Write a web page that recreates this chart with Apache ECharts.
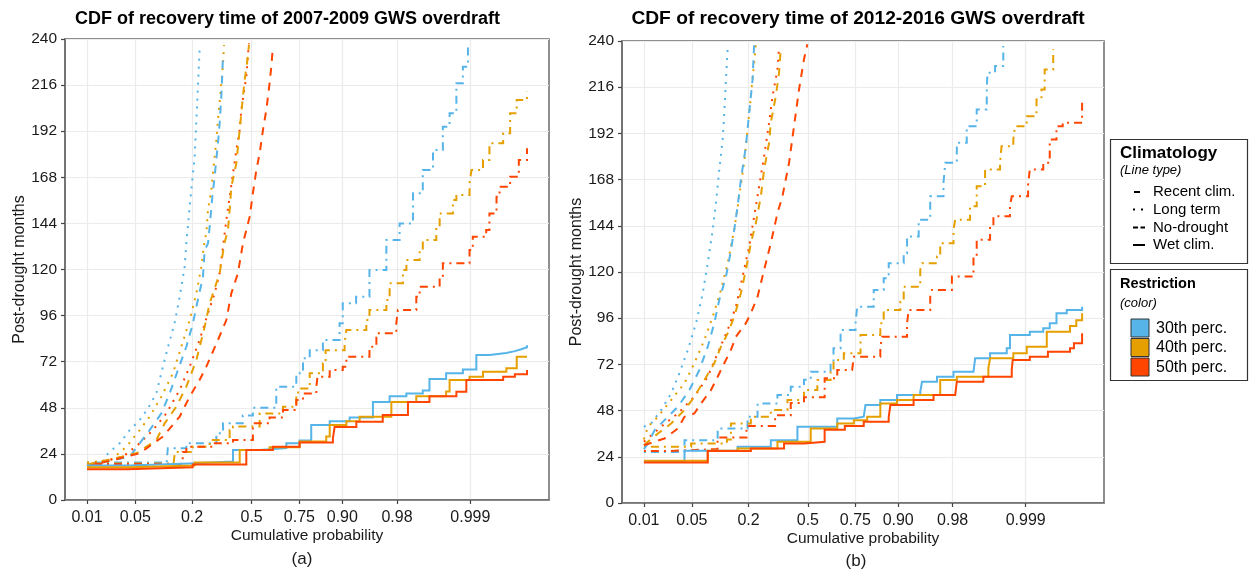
<!DOCTYPE html>
<html>
<head>
<meta charset="utf-8">
<script src="https://cdn.jsdelivr.net/npm/echarts@6/dist/echarts.min.js"></script>
<style>
  html, body { margin: 0; padding: 0; background: #ffffff; }
  #chart { width: 1249px; height: 571px; }
</style>
</head>
<body>
<div id="chart"></div>
<script>
// ---- Axis ticks -----------------------------------------------------------
const probTicks = [0.01, 0.05, 0.2, 0.5, 0.75, 0.90, 0.98, 0.999];
const probTickLabels = ['0.01', '0.05', '0.2', '0.5', '0.75', '0.90', '0.98', '0.999'];
const monthMax = 240;
const monthStep = 24;

const climatologies = ['Recent clim.', 'Long term', 'No-drought', 'Wet clim.'];
const restrictions = ['30th perc.', '40th perc.', '50th perc.'];
const panelTitles = ['CDF of recovery time of 2007-2009 GWS overdraft', 'CDF of recovery time of 2012-2016 GWS overdraft'];
const panelTags = ['(a)', '(b)'];

// ---- (a) 2007-2009 overdraft: [cumulative probability, post-drought months] ----
const a_recent_30 = [[0.01,19.5],[0.115,20],[0.118,27],[0.178,29.5],[0.309,34.7],[0.343,40],[0.45,44],[0.507,48],[0.636,59],[0.736,66],[0.766,73.8],[0.794,78],[0.843,83.3],[0.893,92],[0.901,102.4],[0.930,105.8],[0.952,119.7],[0.9715,135.3],[0.9817,144],[0.9887,159.7],[0.9922,171.8],[0.9948,182.2],[0.99655,194.3],[0.99742,201.3],[0.99809,216.9],[0.99858,225.6],[0.99888,236]];
const a_recent_40 = [[0.01,19],[0.135,19.5],[0.139,25],[0.2035,27.7],[0.2765,31.2],[0.378,36.4],[0.396,38.2],[0.545,45],[0.671,48.6],[0.736,56],[0.751,58],[0.794,66],[0.843,71.2],[0.852,78],[0.9055,81.6],[0.9096,88.5],[0.9474,93.7],[0.952,98.9],[0.9715,104.1],[0.9744,112.8],[0.9837,119.7],[0.9856,124.9],[0.9912,130.1],[0.9922,135.3],[0.99546,142.3],[0.99605,149.2],[0.99777,156.2],[0.99809,158.8],[0.99896,164.9],[0.99905,171.8],[0.99946,177],[0.99961,185.7],[0.99981,190.9],[0.99987,201.3],[0.99991,208.2],[0.99995,212.5]];
const a_recent_50 = [[0.01,18.7],[0.1546,19],[0.165,25],[0.178,27.7],[0.292,29.5],[0.396,31.2],[0.507,39.9],[0.60,43],[0.671,46.8],[0.736,52],[0.766,55.5],[0.8197,59],[0.824,64.2],[0.865,67.7],[0.901,69.4],[0.9096,74.6],[0.952,79.8],[0.961,86.8],[0.9795,92],[0.9806,98.9],[0.99,105.8],[0.9912,111],[0.99605,116.2],[0.99655,123.2],[0.99896,130.1],[0.99911,137.1],[0.99954,140.5],[0.99961,149.2],[0.99973,157.9],[0.99977,163.1],[0.99987,168.3],[0.99992,177],[0.99995,183.1]];
const a_long_30 = [[0.01,19],[0.0179,20],[0.0212,24.3],[0.0311,29.5],[0.0424,36.4],[0.0568,41.6],[0.0715,47.7],[0.0891,55.5],[0.0968,62.5],[0.114,76.4],[0.138,92],[0.1546,105.8],[0.172,121.4],[0.178,133.6],[0.1905,152.7],[0.2035,170],[0.2104,178.7],[0.2174,197.8],[0.224,215.2],[0.231,234.3]];
const a_long_40 = [[0.01,19.5],[0.0232,20.8],[0.0384,27.7],[0.0568,36.4],[0.0748,43.4],[0.101,53.8],[0.1331,66],[0.1603,79.8],[0.1905,93.7],[0.2174,107.6],[0.2386,121.4],[0.2534,135.3],[0.261,138.8],[0.2686,151],[0.2846,161.4],[0.2957,173.5],[0.309,187.4],[0.317,197.8],[0.334,216.9],[0.343,227.3],[0.348,236.9]];
const a_long_50 = [[0.01,18],[0.0345,22.5],[0.0568,29.5],[0.0816,36.4],[0.114,45.1],[0.1546,57.3],[0.1905,69.4],[0.231,83.3],[0.2686,97.2],[0.3005,107.6],[0.3256,118],[0.343,131.9],[0.3605,145.8],[0.378,157.9],[0.396,170],[0.4145,182.2],[0.4326,192.6],[0.442,203],[0.455,211.7],[0.470,220.4],[0.479,231.6],[0.485,237.7]];
const a_nodrought_30 = [[0.01,18],[0.0424,22.5],[0.0568,29.5],[0.0748,36.4],[0.101,45.1],[0.1234,55.5],[0.149,67.7],[0.178,79.8],[0.2035,92],[0.2174,100.6],[0.2457,116.2],[0.2534,130],[0.2686,133.6],[0.2765,142.3],[0.2894,157.9],[0.3005,168.3],[0.317,185.7],[0.3256,196.1],[0.334,210],[0.3395,222.1],[0.343,232.5]];
const a_nodrought_40 = [[0.01,18.5],[0.0517,24.3],[0.0891,31.2],[0.1095,39.9],[0.1437,48.6],[0.178,59],[0.2174,72.9],[0.2534,90.2],[0.2765,102.4],[0.3256,118],[0.35,133.6],[0.369,140.5],[0.378,151],[0.387,163.1],[0.4145,175.3],[0.429,189.1],[0.442,201.3],[0.451,210],[0.4606,218.6],[0.4737,227.3],[0.485,236.9]];
const a_nodrought_50 = [[0.01,17.5],[0.0568,24.3],[0.105,33],[0.1546,43.4],[0.1905,53.8],[0.231,62.5],[0.261,69.4],[0.317,83.3],[0.3605,93.7],[0.387,107.6],[0.423,118],[0.451,133.6],[0.470,140.5],[0.489,147.5],[0.507,159.7],[0.5265,171.8],[0.545,180.4],[0.5635,192.6],[0.582,203],[0.60,216.9],[0.6095,225.6],[0.618,236]];
const a_wet_30 = [[0.01,18],[0.042,19],[0.19,20],[0.396,26],[0.545,27],[0.688,29.5],[0.751,31],[0.80,39],[0.865,41],[0.917,43],[0.9567,51],[0.9744,54],[0.9856,55.5],[0.9922,57],[0.994,63],[0.997,66],[0.99858,68],[0.99925,75.5],[0.99961,76.5],[0.99984,77.5],[0.9999,78.5],[0.99993,79.5],[0.99995,80.5]];
const a_wet_40 = [[0.01,17],[0.042,18],[0.21,19.5],[0.433,26],[0.60,27.5],[0.751,30.5],[0.854,33],[0.865,39],[0.9096,41],[0.9365,43.4],[0.9758,51],[0.99,54],[0.997,56.5],[0.99742,62.5],[0.99896,64.2],[0.99946,66.8],[0.99984,68.6],[0.99991,74.6],[0.99995,74.6]];
const a_wet_50 = [[0.01,16],[0.04,17],[0.2024,18.5],[0.47,26],[0.618,27.7],[0.751,30],[0.8745,32],[0.8794,38],[0.9305,40.8],[0.968,44.2],[0.9864,51],[0.994,54],[0.99809,56.4],[0.99879,62.5],[0.99981,64.2],[0.9999,65.5],[0.99995,67.7]];

// ---- (b) 2012-2016 overdraft ---------------------------------------------
const b_recent_30 = [[0.01,26.5],[0.04,32.6],[0.1003,38.7],[0.196,44.8],[0.2377,51.7],[0.333,56.1],[0.404,60.4],[0.478,64],[0.516,68.2],[0.6264,73],[0.642,80.4],[0.6787,89.9],[0.7505,93.4],[0.758,102],[0.825,110.7],[0.859,116.8],[0.8743,124.6],[0.913,129.8],[0.9203,138.5],[0.942,147.2],[0.9587,159.3],[0.9728,166.3],[0.9744,176.7],[0.9827,187.1],[0.9879,195.7],[0.9917,204.4],[0.99443,214.8],[0.99457,223.5],[0.99605,227],[0.99722,237.4]];
const b_recent_40 = [[0.01,29.2],[0.0488,30.9],[0.1255,33],[0.1375,41.3],[0.2093,44.8],[0.2995,48.3],[0.386,53.5],[0.478,58.7],[0.5535,63.9],[0.6264,69.1],[0.642,74.3],[0.695,77.8],[0.7724,87.3],[0.848,93.4],[0.859,100.3],[0.9053,104.6],[0.913,112.4],[0.9446,121.1],[0.9473,124.6],[0.9665,128.1],[0.9698,135],[0.9806,142],[0.9817,147.2],[0.9893,154.1],[0.9917,164.5],[0.99403,173.2],[0.9968,176.7],[0.997,185.3],[0.99822,188.8],[0.99835,195.7],[0.99905,200.9],[0.99941,209.6],[0.99954,214.8],[0.99961,225.2],[0.99975,235.7]];
const b_recent_50 = [[0.01,27],[0.0238,28],[0.1,34],[0.192,40],[0.321,45.6],[0.404,52],[0.478,55],[0.594,64.8],[0.6617,69.1],[0.735,70],[0.743,76],[0.848,81.2],[0.854,86.4],[0.9203,93.4],[0.9236,100.3],[0.9587,107.2],[0.9608,110.7],[0.9795,117.6],[0.9906,128.1],[0.9917,136.8],[0.99513,143.7],[0.99576,148.9],[0.99793,154.1],[0.99809,159.3],[0.99911,165.4],[0.99918,173.2],[0.99958,176.7],[0.9997,188.8],[0.99979,195.7],[0.99985,197.5],[0.99995,207.9]];
const b_long_30 = [[0.01,39.6],[0.0131,41.3],[0.0187,48.3],[0.0262,57],[0.0342,67.4],[0.0442,79.5],[0.0563,93.4],[0.0679,109],[0.0777,124.6],[0.0885,141.9],[0.0961,155.9],[0.1044,173.2],[0.1133,188.8],[0.1178,202.7],[0.1226,220],[0.1276,236.5]];
const b_long_40 = [[0.01,33],[0.0116,39.6],[0.0167,44.8],[0.0262,53.5],[0.04,62.2],[0.0536,72.6],[0.071,84.7],[0.0885,96.8],[0.1088,110.7],[0.1276,124.6],[0.148,141.9],[0.165,159.3],[0.183,176.7],[0.196,194],[0.2093,211.3],[0.223,228.7],[0.2302,238.3]];
const b_long_50 = [[0.01,31.8],[0.0187,39.6],[0.0325,46.5],[0.0536,55.2],[0.0777,65.6],[0.1003,77.8],[0.1276,89.9],[0.1537,102],[0.1772,117.6],[0.2025,133.3],[0.223,148.9],[0.2447,164.5],[0.2674,180.1],[0.291,197.5],[0.308,211.3],[0.333,225.2],[0.3413,236.5]];
const b_nodrought_30 = [[0.01,28],[0.0116,30.9],[0.0148,37.8],[0.0235,44.8],[0.0325,50],[0.0464,58.7],[0.0618,69.1],[0.0777,81.2],[0.0921,93.4],[0.1044,105.5],[0.1226,117.6],[0.1322,126.3],[0.148,141.9],[0.1594,154.1],[0.171,168],[0.1895,185.3],[0.2025,202.7],[0.2163,220],[0.223,238.3]];
const b_nodrought_40 = [[0.01,30],[0.0116,31.8],[0.0167,36.1],[0.0262,41.3],[0.04,48.3],[0.0536,55.2],[0.071,63.9],[0.0921,72.6],[0.1088,81.2],[0.1276,88.2],[0.148,96.8],[0.171,109],[0.1895,121.1],[0.2093,135],[0.2302,145.4],[0.2523,159.3],[0.2674,173.2],[0.291,187.1],[0.2995,197.5],[0.3245,211.3],[0.3413,223.5],[0.35,235.7]];
const b_nodrought_50 = [[0.01,30],[0.0209,33.5],[0.0325,38.7],[0.04,44.8],[0.0536,46.5],[0.0648,51.7],[0.0847,58.7],[0.1003,65.6],[0.1178,72.6],[0.1375,79.5],[0.1537,86.4],[0.1895,93.4],[0.2093,98.6],[0.2377,107.2],[0.2674,121.1],[0.2995,135],[0.333,150.6],[0.359,159.3],[0.3947,176.7],[0.422,195.7],[0.45,214.8],[0.478,230.5],[0.497,238.3]];
const b_wet_30 = [[0.01,21.3],[0.04,27.1],[0.1594,29.2],[0.2995,32.6],[0.441,39.6],[0.6617,43.9],[0.743,44.8],[0.786,45.7],[0.793,50.9],[0.848,53.5],[0.897,56.1],[0.9446,57.8],[0.9473,63],[0.9665,65.6],[0.9806,68.2],[0.9906,69.1],[0.9912,75.2],[0.99513,77.8],[0.99761,80.4],[0.99793,87.3],[0.99918,89],[0.99958,90.8],[0.9997,93.4],[0.99979,98.6],[0.99988,100.3],[0.99995,102]];
const b_wet_40 = [[0.01,21.9],[0.0777,27.1],[0.1594,28.3],[0.333,31.8],[0.516,38.7],[0.6617,41.3],[0.743,43],[0.80,44.8],[0.848,51.7],[0.897,53.5],[0.9332,56.1],[0.9698,63.9],[0.9827,65.6],[0.99478,70],[0.99513,75.2],[0.99822,77.8],[0.99905,81.2],[0.99965,89],[0.99985,89],[0.9999,92],[0.99993,95],[0.99995,98.6]];
const b_wet_50 = [[0.01,21],[0.0777,27],[0.2093,28.3],[0.3677,30.9],[0.478,31.8],[0.594,38],[0.70,40],[0.786,42.2],[0.8743,44.8],[0.8792,50.9],[0.9332,53.5],[0.9627,56.1],[0.9817,57],[0.9827,63],[0.99361,65.6],[0.99809,69.1],[0.99817,74.3],[0.99918,76],[0.99967,78.6],[0.9999,80.4],[0.99992,83],[0.99995,88.2]];

// ---- Styling ---------------------------------------------------------------
const restrictionColors = ['#56B4E9', '#E69F00', '#FF4500'];
const climDash = { 'Recent clim.': [2, 5, 8, 5], 'Long term': [2, 6], 'No-drought': [8, 7], 'Wet clim.': 'solid' };
const climStep = { 'Recent clim.': 'end', 'Long term': false, 'No-drought': false, 'Wet clim.': 'end' };
const FONT = '"Liberation Sans", Arial, Helvetica, sans-serif';

const panelCurves = [
  { 'Recent clim.': [a_recent_30, a_recent_40, a_recent_50], 'Long term': [a_long_30, a_long_40, a_long_50],
    'No-drought': [a_nodrought_30, a_nodrought_40, a_nodrought_50], 'Wet clim.': [a_wet_30, a_wet_40, a_wet_50] },
  { 'Recent clim.': [b_recent_30, b_recent_40, b_recent_50], 'Long term': [b_long_30, b_long_40, b_long_50],
    'No-drought': [b_nodrought_30, b_nodrought_40, b_nodrought_50], 'Wet clim.': [b_wet_30, b_wet_40, b_wet_50] }
];

// Inverse standard normal CDF (Acklam) – the normal-probability x scale
function qnorm(p) {
  const a = [-3.969683028665376e+01, 2.209460984245205e+02, -2.759285104469687e+02, 1.383577518672690e+02, -3.066479806614716e+01, 2.506628277459239e+00];
  const b = [-5.447609879822406e+01, 1.615858368580409e+02, -1.556989798598866e+02, 6.680131188771972e+01, -1.328068155288572e+01];
  const c = [-7.784894002430293e-03, -3.223964580411365e-01, -2.400758277161838e+00, -2.549732539343734e+00, 4.374664141464968e+00, 2.938163982698783e+00];
  const d = [7.784695709041462e-03, 3.224671290700398e-01, 2.445134137142996e+00, 3.754408661907416e+00];
  const pl = 0.02425;
  let q, r;
  if (p < pl) {
    q = Math.sqrt(-2 * Math.log(p));
    return (((((c[0]*q+c[1])*q+c[2])*q+c[3])*q+c[4])*q+c[5]) / ((((d[0]*q+d[1])*q+d[2])*q+d[3])*q+1);
  }
  if (p <= 1 - pl) {
    q = p - 0.5; r = q * q;
    return (((((a[0]*r+a[1])*r+a[2])*r+a[3])*r+a[4])*r+a[5])*q / (((((b[0]*r+b[1])*r+b[2])*r+b[3])*r+b[4])*r+1);
  }
  q = Math.sqrt(-2 * Math.log(1 - p));
  return -(((((c[0]*q+c[1])*q+c[2])*q+c[3])*q+c[4])*q+c[5]) / ((((d[0]*q+d[1])*q+d[2])*q+d[3])*q+1);
}

// x range: data extent on the probit scale plus 5% padding on each side
let zLo = Infinity, zHi = -Infinity;
panelCurves.forEach(pc => climatologies.forEach(cl => pc[cl].forEach(arr => arr.forEach(([p]) => {
  const z = qnorm(p); zLo = Math.min(zLo, z); zHi = Math.max(zHi, z);
}))));
const zPad = 0.05 * (zHi - zLo);
const tickZ = probTicks.map(qnorm);

function probLabel(v) {
  for (let i = 0; i < tickZ.length; i++) if (Math.abs(tickZ[i] - v) < 1e-6) return probTickLabels[i];
  return '';
}

const grids = [
  { left: 65, top: 39, width: 484, height: 461 },
  { left: 622, top: 41, width: 482, height: 462 }
];
const axisGray = '#6b6b6b';
const gridGray = '#ebebeb';

const xAxes = grids.map((g, i) => ({
  type: 'value', gridIndex: i, min: zLo - zPad, max: zHi + zPad,
  name: 'Cumulative probability', nameLocation: 'middle', nameGap: 28, nameMoveOverlap: false,
  nameTextStyle: { fontFamily: FONT, fontSize: 15.5, color: '#1a1a1a' },
  axisLine: { show: true, onZero: false, lineStyle: { color: axisGray, width: 1.5 } },
  axisTick: { show: true, length: 4, customValues: tickZ, lineStyle: { color: '#444', width: 1.2 } },
  axisLabel: { customValues: tickZ, formatter: probLabel, fontFamily: FONT, fontSize: 16, color: '#1a1a1a', margin: 10 },
  splitLine: { show: true, lineStyle: { color: gridGray, width: 1.2 } }
}));

const yAxes = grids.map((g, i) => ({
  type: 'value', gridIndex: i, min: 0, max: monthMax, interval: monthStep,
  name: 'Post-drought months', nameLocation: 'middle', nameRotate: 90, nameGap: 37, nameMoveOverlap: false,
  nameTextStyle: { fontFamily: FONT, fontSize: 16, color: '#1a1a1a' },
  axisLine: { show: true, onZero: false, lineStyle: { color: axisGray, width: 1.5 } },
  axisTick: { show: true, length: 4, lineStyle: { color: '#444', width: 1.2 } },
  axisLabel: { fontFamily: FONT, fontSize: 15.5, color: '#1a1a1a', margin: 8 },
  splitLine: { show: true, lineStyle: { color: gridGray, width: 1.2 } }
}));

const series = [];
panelCurves.forEach((pc, pi) => {
  climatologies.forEach(cl => {
    pc[cl].forEach((arr, ri) => {
      series.push({
        type: 'line', name: cl + ' / ' + restrictions[ri],
        xAxisIndex: pi, yAxisIndex: pi,
        data: arr.map(([p, m]) => [qnorm(p), m]),
        step: climStep[cl], showSymbol: false, symbol: 'none', silent: true,
        clip: true, z: 3,
        lineStyle: { color: restrictionColors[ri], width: 2, type: climDash[cl], cap: 'butt', join: 'miter' }
      });
    });
  });
});

// ---- Titles, panel tags and the two legend boxes ----------------------------
const graphics = [];
const titleCenters = [[287.5, 19, 18], [858, 19, 19.2]];
panelTitles.forEach((t, i) => graphics.push({
  type: 'text', x: titleCenters[i][0], y: titleCenters[i][1],
  style: { text: t, font: 'bold ' + titleCenters[i][2] + 'px ' + FONT, fill: '#000', align: 'center', verticalAlign: 'middle' }
}));
const tagCenters = [[302, 559], [856, 561]];
panelTags.forEach((t, i) => graphics.push({
  type: 'text', x: tagCenters[i][0], y: tagCenters[i][1],
  style: { text: t, font: '17px ' + FONT, fill: '#1a1a1a', align: 'center', verticalAlign: 'middle' }
}));

// Climatology box (line type)
graphics.push({ type: 'rect', shape: { x: 1110.5, y: 139.5, width: 137, height: 124 },
  style: { fill: '#fff', stroke: '#333', lineWidth: 1.2 } });
graphics.push({ type: 'text', x: 1120, y: 153, style: { text: 'Climatology', font: 'bold 17px ' + FONT, fill: '#000', verticalAlign: 'middle' } });
graphics.push({ type: 'text', x: 1120, y: 170.5, style: { text: '(Line type)', font: 'italic 13px ' + FONT, fill: '#000', verticalAlign: 'middle' } });
const climRows = [192, 209.5, 227.5, 245];
const keyShapes = [
  { x1: 1134, x2: 1140, dash: null },
  { x1: 1133, x2: 1145, dash: [2, 6] },
  { x1: 1133, x2: 1145, dash: [5, 2.5] },
  { x1: 1133, x2: 1145, dash: null }
];
climatologies.forEach((cl, i) => {
  const k = keyShapes[i];
  graphics.push({ type: 'line', shape: { x1: k.x1, y1: climRows[i], x2: k.x2, y2: climRows[i] },
    style: { stroke: '#000', lineWidth: 2, lineDash: k.dash, lineCap: 'butt' } });
  graphics.push({ type: 'text', x: 1153, y: climRows[i], style: { text: cl, font: '15px ' + FONT, fill: '#000', verticalAlign: 'middle' } });
});

// Restriction box (colour)
graphics.push({ type: 'rect', shape: { x: 1110.5, y: 269.5, width: 137, height: 111 },
  style: { fill: '#fff', stroke: '#333', lineWidth: 1.2 } });
graphics.push({ type: 'text', x: 1120, y: 284, style: { text: 'Restriction', font: 'bold 14.5px ' + FONT, fill: '#000', verticalAlign: 'middle' } });
graphics.push({ type: 'text', x: 1120, y: 303, style: { text: '(color)', font: 'italic 13px ' + FONT, fill: '#000', verticalAlign: 'middle' } });
const swatchTops = [319, 338.5, 358];
restrictions.forEach((r, i) => {
  graphics.push({ type: 'rect', shape: { x: 1131, y: swatchTops[i], width: 18, height: 18 },
    style: { fill: restrictionColors[i], stroke: '#333', lineWidth: 1 } });
  graphics.push({ type: 'text', x: 1156, y: swatchTops[i] + 9.5, style: { text: r, font: '16px ' + FONT, fill: '#000', verticalAlign: 'middle' } });
});

const chart = echarts.init(document.getElementById('chart'), null, { renderer: 'canvas' });
chart.setOption({
  animation: false,
  backgroundColor: '#ffffff',
  grid: grids.map(g => Object.assign({ show: true, borderColor: axisGray, borderWidth: 1.5, backgroundColor: '#ffffff',
    containLabel: false, outerBoundsMode: 'none' }, g)),
  xAxis: xAxes,
  yAxis: yAxes,
  series: series,
  graphic: { elements: graphics }
});
</script>
</body>
</html>
